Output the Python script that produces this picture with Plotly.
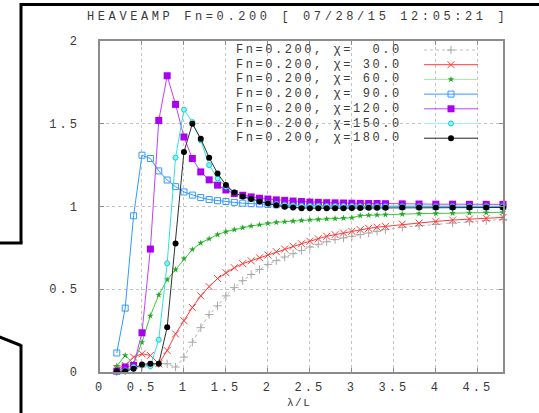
import plotly.graph_objects as go

# ---------------- data ----------------
lam = [0.2, 0.3, 0.4, 0.5, 0.6, 0.7, 0.8, 0.9, 1.0, 1.1, 1.2, 1.3, 1.4, 1.5, 1.6, 1.7,
       1.8, 1.9, 2.0, 2.1, 2.2, 2.3, 2.4, 2.5, 2.6, 2.7, 2.8, 2.9, 3.0, 3.1, 3.2, 3.3,
       3.4, 3.6, 3.8, 4.0, 4.2, 4.4, 4.6, 4.8]

chi_labels = ["  0.0", " 30.0", " 60.0", " 90.0", "120.0", "150.0", "180.0"]

amp_0 = [0.0, 0.01, 0.02, 0.03, 0.04, 0.05, 0.05, 0.03, 0.09, 0.18, 0.268, 0.347, 0.40, 0.46,
         0.51, 0.552, 0.589, 0.619, 0.65, 0.673, 0.695, 0.715, 0.735, 0.755, 0.772, 0.787,
         0.80, 0.81, 0.82, 0.83, 0.84, 0.85, 0.86, 0.874, 0.884, 0.892, 0.90, 0.908, 0.915, 0.922]
amp_30 = [0.02, 0.04, 0.09, 0.11, 0.10, 0.05, 0.13, 0.23, 0.31, 0.39, 0.46, 0.516, 0.565, 0.60,
          0.63, 0.655, 0.672, 0.69, 0.707, 0.727, 0.743, 0.76, 0.775, 0.79, 0.805, 0.82, 0.83,
          0.84, 0.85, 0.86, 0.868, 0.875, 0.88, 0.894, 0.90, 0.91, 0.918, 0.924, 0.928, 0.934]
amp_60 = [0.036, 0.10, 0.05, 0.18, 0.34, 0.466, 0.558, 0.619, 0.685, 0.74, 0.78, 0.805, 0.83,
          0.848, 0.86, 0.872, 0.882, 0.89, 0.898, 0.904, 0.908, 0.912, 0.916, 0.92, 0.922,
          0.925, 0.927, 0.93, 0.932, 0.945, 0.947, 0.949, 0.951, 0.954, 0.957, 0.958, 0.96,
          0.962, 0.963, 0.965]
amp_90 = [0.115, 0.386, 0.944, 1.31, 1.29, 1.215, 1.16, 1.12, 1.088, 1.069, 1.054, 1.042, 1.035,
          1.03, 1.025, 1.02, 1.017, 1.015, 1.012, 1.01, 1.008, 1.006, 1.005, 1.004, 1.004,
          1.003, 1.003, 1.002, 1.002, 1.002, 1.001, 1.001, 1.001, 1.0, 1.0, 1.0, 1.0, 1.0, 1.0, 1.0]
amp_120 = [0.005, 0.03, 0.04, 0.237, 0.743, 1.52, 1.79, 1.617, 1.42, 1.29, 1.209, 1.161, 1.129,
           1.10, 1.078, 1.068, 1.058, 1.05, 1.045, 1.04, 1.037, 1.033, 1.03, 1.027, 1.025,
           1.023, 1.022, 1.021, 1.02, 1.019, 1.018, 1.018, 1.017, 1.016, 1.015, 1.014, 1.014,
           1.013, 1.013, 1.013]
amp_150 = [0.0, 0.01, 0.03, 0.04, 0.035, 0.195, 0.657, 1.295, 1.585, 1.51, 1.40, 1.25, 1.17,
           1.12, 1.085, 1.06, 1.045, 1.032, 1.022, 1.015, 1.01, 1.007, 1.005, 1.004, 1.004,
           1.003, 1.003, 1.003, 1.003, 1.002, 1.002, 1.002, 1.002, 1.002, 1.002, 1.002, 1.002,
           1.002, 1.002, 1.002]
amp_180 = [0.004, 0.004, 0.02, 0.046, 0.05, 0.05, 0.27, 0.777, 1.33, 1.50, 1.41, 1.295, 1.20,
           1.13, 1.084, 1.06, 1.045, 1.03, 1.018, 1.008, 0.998, 0.994, 0.99, 0.99, 0.99, 0.99,
           0.99, 0.99, 0.991, 0.991, 0.992, 0.992, 0.992, 0.994, 0.994, 0.994, 0.994, 0.994,
           0.994, 0.994]

x_ticks = [0, 0.5, 1, 1.5, 2, 2.5, 3, 3.5, 4, 4.5]
y_ticks = [0, 0.5, 1, 1.5, 2]

series = [amp_0, amp_30, amp_60, amp_90, amp_120, amp_150, amp_180]

styles = [
    dict(line=dict(color="#b4b4b4", width=1, dash="dot"),
         marker=dict(symbol="cross-thin", size=6, line=dict(color="#a8a8a8", width=1))),
    dict(line=dict(color="#ff3b3b", width=1),
         marker=dict(symbol="x-thin", size=7, line=dict(color="#ff3b3b", width=1))),
    dict(line=dict(color="#3cc83c", width=1),
         marker=dict(symbol="star", size=5, color="#22aa22")),
    dict(line=dict(color="#3399ff", width=1),
         marker=dict(symbol="square-open", size=6, color="#3399ff", line=dict(width=1))),
    dict(line=dict(color="#c040ff", width=1),
         marker=dict(symbol="square", size=7, color="#aa00ee")),
    dict(line=dict(color="#30e0e0", width=1),
         marker=dict(symbol="circle", size=5, color="#7ffafa", line=dict(color="#20c8c8", width=1))),
    dict(line=dict(color="#303030", width=1),
         marker=dict(symbol="circle", size=6, color="#000000")),
]
legend_line_colors = ["#c0c0c0", "#ff3b3b", "#a0e8a0", "#3399ff", "#c040ff", "#a0f4f4", "#202020"]

# --------------- geometry helpers (pixel layout) ---------------
W, H = 539, 413
ML, MR, MT, MB = 100, 36, 41, 41
PW, PH = W - ML - MR, H - MT - MB


def px(xp):
    return (xp - ML) / PW


def py(yp):
    return (H - MB - yp) / PH


def sp(s, ls=3.0):
    s = s.replace(" ", "\u00a0")
    return '<span style="letter-spacing:%.2fpx">%s</span>' % (ls, s)


FONT = "Liberation Mono, DejaVu Sans Mono, monospace"
TXT = "#3a3a3a"

fig = go.Figure()

for vals, st, lab in zip(series, styles, chi_labels):
    fig.add_trace(go.Scatter(x=lam, y=vals, mode="lines+markers", name=lab.strip(),
                             line=st["line"], marker=st["marker"], showlegend=False,
                             cliponaxis=False))

# custom legend: samples on the right of the text
row_y = [50 + 14.7 * i for i in range(len(chi_labels))]
for i, st in enumerate(styles):
    ln = dict(st["line"])
    ln["color"] = legend_line_colors[i]
    fig.add_trace(go.Scatter(x=[424, 478], y=[row_y[i], row_y[i]], mode="lines", line=ln,
                             xaxis="x2", yaxis="y2", showlegend=False, hoverinfo="skip"))
    fig.add_trace(go.Scatter(x=[451], y=[row_y[i]], mode="markers", marker=st["marker"],
                             xaxis="x2", yaxis="y2", showlegend=False, hoverinfo="skip"))

annotations = []
for i, lab in enumerate(chi_labels):
    annotations.append(dict(xref="paper", yref="paper", x=px(319), y=py(row_y[i]),
                            xanchor="center", yanchor="middle", showarrow=False,
                            text=sp("Fn=0.200, χ=" + lab, 2.55),
                            font=dict(family=FONT, size=12, color=TXT)))

annotations.append(dict(xref="paper", yref="paper", x=px(297), y=py(17), xanchor="center",
                        yanchor="middle", showarrow=False,
                        text=sp("HEAVEAMP Fn=0.200 [ 07/28/15 12:05:21 ]", 3.6),
                        font=dict(family=FONT, size=12, color=TXT)))
annotations.append(dict(xref="paper", yref="paper", x=px(299), y=py(403), xanchor="center",
                        yanchor="middle", showarrow=False, text=sp("λ/L", 1.5),
                        font=dict(family=FONT, size=11, color=TXT)))

shapes = [
    # white legend box hiding the grid
    dict(type="rect", xref="paper", yref="paper", x0=px(213), x1=px(489), y0=py(145), y1=py(41.5),
         fillcolor="white", line=dict(width=0), layer="between"),
    # outer decorative frame
    dict(type="line", xref="paper", yref="paper", x0=px(21), x1=px(545), y0=py(4.5), y1=py(4.5),
         line=dict(color="black", width=3)),
    dict(type="line", xref="paper", yref="paper", x0=px(21), x1=px(21), y0=py(3), y1=py(243),
         line=dict(color="black", width=3)),
    dict(type="line", xref="paper", yref="paper", x0=px(22.5), x1=px(-5), y0=py(243), y1=py(243),
         line=dict(color="black", width=3)),
    dict(type="line", xref="paper", yref="paper", x0=px(-5), x1=px(21), y0=py(335), y1=py(345.5),
         line=dict(color="black", width=3)),
    dict(type="line", xref="paper", yref="paper", x0=px(21), x1=px(21), y0=py(344.5), y1=py(420),
         line=dict(color="black", width=3)),
]

axis_common = dict(showgrid=True, gridcolor="#c4c4c4", griddash="dot", gridwidth=1,
                   zeroline=False, showline=True, linecolor="#8c8c8c", linewidth=1.5,
                   mirror="allticks", ticks="inside", ticklen=4, tickcolor="#8c8c8c",
                   tickfont=dict(family=FONT, size=12, color=TXT))

fig.update_layout(
    width=W, height=H, margin=dict(l=ML, r=MR, t=MT, b=MB, autoexpand=False),
    paper_bgcolor="white", plot_bgcolor="white",
    xaxis=dict(range=[0, 4.8], tickvals=x_ticks,
               ticktext=[sp(str(v), 3.0) for v in x_ticks], ticklabelstandoff=3,
               **axis_common),
    yaxis=dict(range=[0, 2], tickvals=y_ticks,
               ticktext=[sp(str(v), 3.0) for v in y_ticks], ticklabelstandoff=16,
               **axis_common),
    xaxis2=dict(range=[ML, W - MR], overlaying="x", visible=False),
    yaxis2=dict(range=[H - MB, MT], overlaying="y", visible=False),
    annotations=annotations, shapes=shapes, showlegend=False,
)

fig.write_html("out.html")
